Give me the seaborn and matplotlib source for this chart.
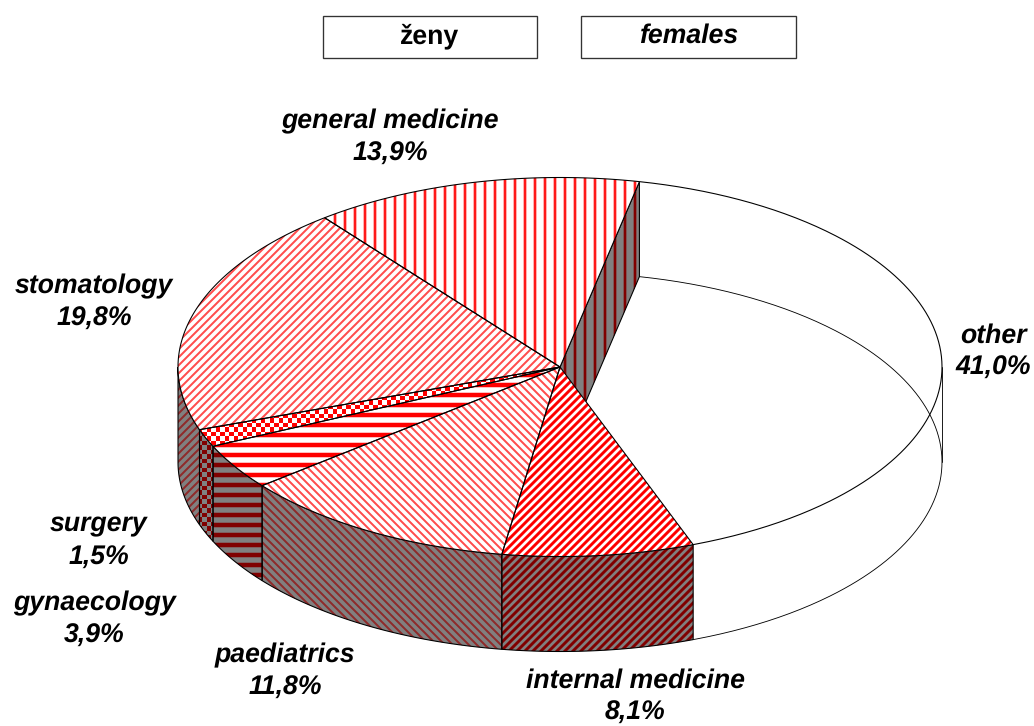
import numpy as np
import matplotlib
matplotlib.use("Agg")
import matplotlib.pyplot as plt
from matplotlib.patches import Polygon, Rectangle
from matplotlib.colors import ListedColormap
import seaborn as sns

# ---- data (clockwise, starting from the back edge of "other")
categories = ["other", "internal medicine", "paediatrics", "gynaecology",
              "surgery", "stomatology", "general medicine"]
shares = [41.0, 8.1, 11.8, 3.9, 1.5, 19.8, 13.9]

# ---- style
hatches = [None, "/////", "\\\\\\\\\\", "--", None, "/////", "||"]
hatch_widths = [0, 1.75, 1.2, 2.7, 0, 1.2, 1.6]
top_colors = ["white", "#ff0000", "#ff4d4d", "#ff0000", "#ff0000", "#ff4d4d", "#ff1a1a"]
wall_colors = ["white", "#800000", "#8f2a2a", "#800000", "#800000", "#8f2a2a", "#800000"]
label_xy = [(993, 352), (635, 697), (285, 672), (94, 620),
            (99, 541), (94, 303), (390, 138)]
header_texts = ["ženy", "females"]
header_styles = ["normal", "italic"]
header_x = [(323, 537), (581, 796)]

sns.set_theme(style="white")
plt.rcParams["font.family"] = ["Liberation Sans", "DejaVu Sans"]
plt.rcParams["text.hinting"] = "no_hinting"

DPI = 120
fig = plt.figure(figsize=(1034 / DPI, 726 / DPI), dpi=DPI, facecolor="white")
ax = fig.add_axes([0, 0, 1, 1])
ax.axis("off")

CX, CY, RX, RY, DEPTH = 560.0, 367.0, 382.0, 189.5, 95.0
START = 12.0
LW = 0.65
WALL_BG = "#808080"
CELL = 4.5


def arc(a0, a1, dz=0.0):
    t = np.radians(np.linspace(a0, a1, max(int(abs(a1 - a0) * 2), 2)))
    return np.column_stack([CX + RX * np.sin(t), CY - RY * np.cos(t) + dz])


def shape(pts, face, edge, hatch, hw, z):
    p = Polygon(pts, closed=True, facecolor=face, edgecolor=edge, hatch=hatch,
                linewidth=0, zorder=z)
    if hatch:
        p.set_hatch_linewidth(hw)
    ax.add_patch(p)
    ax.add_patch(Polygon(pts, closed=True, fill=False, edgecolor="black",
                         linewidth=LW, zorder=z + 0.1))
    return p


def checker(clip, on, off, z):
    n_y, n_x = int(726 / CELL) + 1, int(1034 / CELL) + 1
    grid = np.indices((n_y, n_x)).sum(axis=0) % 2
    im = ax.imshow(grid, cmap=ListedColormap([off, on]), interpolation="nearest",
                   extent=(0, n_x * CELL, n_y * CELL, 0), aspect="auto", zorder=z + 0.05)
    im.set_clip_path(clip)


angles = START + np.concatenate([[0], np.cumsum(shares)]) * 3.6

# "other" is open: only its outlines show
a0, a1 = angles[0], angles[1]
ax.add_patch(Polygon(np.vstack([arc(a0, a1), [[CX, CY]]]), facecolor="white",
                     edgecolor="none", zorder=1))
ax.plot(*arc(a0, a1).T, color="black", lw=LW, zorder=1.2)
ax.plot(*arc(a0, a1, DEPTH).T, color="black", lw=LW * 0.8, zorder=1.2)
ax.plot(*np.vstack([arc(90, 90), arc(90, 90, DEPTH)]).T, color="black", lw=LW * 0.8, zorder=1.2)

# inner wall of "general medicine" seen through the open slice
end = np.radians(angles[0])
rim = np.array([CX + RX * np.sin(end), CY - RY * np.cos(end)])
inner = [[CX, CY], rim, rim + [0, DEPTH], [CX, CY + DEPTH]]
shape(inner, WALL_BG, wall_colors[6], hatches[6], hatch_widths[6], 2)

# outer walls, then tops
for i in range(1, len(categories)):
    a0, a1 = angles[i], angles[i + 1]
    w1 = min(a1, 270.0)
    if a0 < 270:
        pts = np.vstack([arc(a0, w1), arc(a0, w1, DEPTH)[::-1]])
        wall = shape(pts, WALL_BG, wall_colors[i], hatches[i], hatch_widths[i], 3 + i * 0.01)
        if hatches[i] is None:
            checker(wall, wall_colors[i], WALL_BG, 3 + i * 0.01)

for i in range(1, len(categories)):
    pts = np.vstack([[[CX, CY]], arc(angles[i], angles[i + 1])])
    top = shape(pts, "white", top_colors[i], hatches[i], hatch_widths[i], 5 + i * 0.01)
    if hatches[i] is None:
        checker(top, top_colors[i], "white", 5 + i * 0.01)

ax.set_xlim(0, 1034)
ax.set_ylim(726, 0)

# labels
for name, value, (x, y) in zip(categories, shares, label_xy):
    ax.text(x, y, f"{name}\n{value:.1f}".replace(".", ",") + "%", ha="center", va="center",
            fontsize=16, fontweight="bold", fontstyle="italic", color="black",
            linespacing=1.37, zorder=10)

# header boxes
for text, style, (x0, x1) in zip(header_texts, header_styles, header_x):
    ax.add_patch(Rectangle((x0, 16), x1 - x0, 42, facecolor="white", edgecolor="#333333",
                           linewidth=0.8, zorder=8))
    ax.text((x0 + x1) / 2, 36, text, ha="center", va="center", fontsize=16,
            fontweight="bold", fontstyle=style, color="black", zorder=10)

fig.savefig("out.png", dpi=DPI, facecolor="white")
